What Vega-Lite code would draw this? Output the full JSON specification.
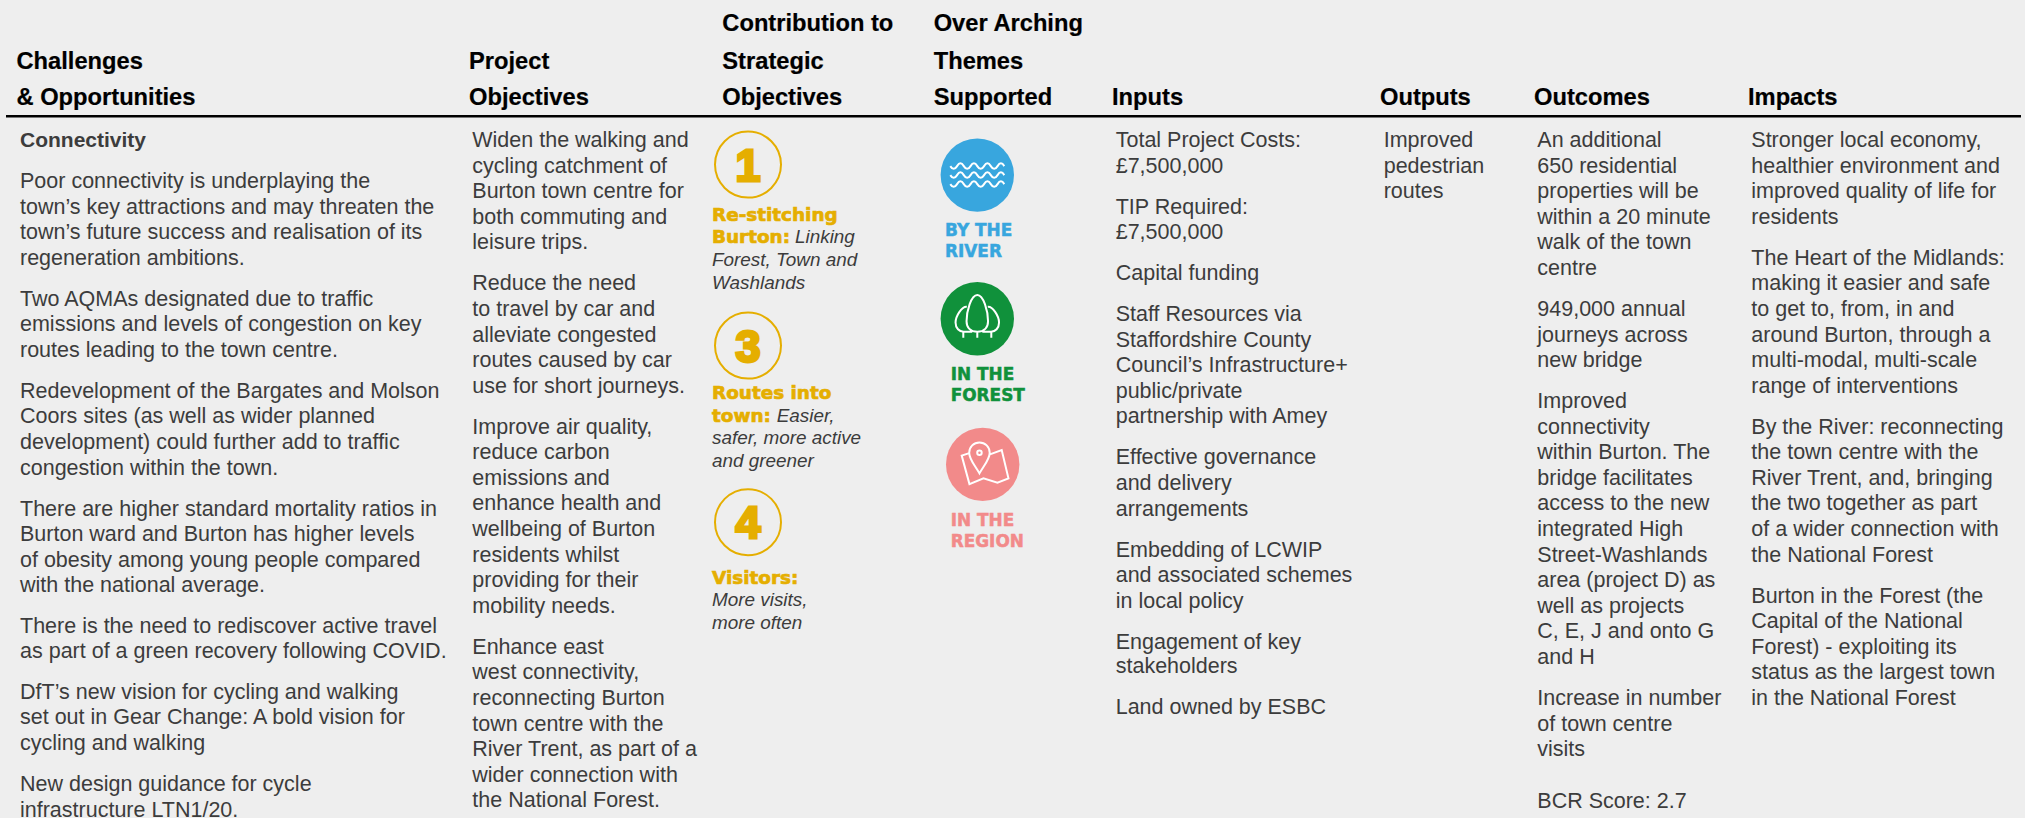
{
"$schema":"https://vega.github.io/schema/vega-lite/v6.json",
"width":2025,"height":818,"padding":0,
"autosize":{"type":"fit","contains":"padding"},
"background":"#eeeeee",
"view":{"stroke":null},
"datasets":{
"rule":[{"col":0,"to":23,"line":4.54}],
"header":[
{"col":6,"line":1.21,"text":"Contribution to"},{"col":10,"line":1.21,"text":"Over Arching"},
{"col":1,"line":2.68,"text":"Challenges"},{"col":3,"line":2.68,"text":"Project"},{"col":6,"line":2.68,"text":"Strategic"},{"col":10,"line":2.68,"text":"Themes"},
{"col":1,"line":4.12,"text":"& Opportunities"},{"col":3,"line":4.12,"text":"Objectives"},{"col":6,"line":4.12,"text":"Objectives"},{"col":10,"line":4.12,"text":"Supported"},{"col":15,"line":4.12,"text":"Inputs"},{"col":17,"line":4.12,"text":"Outputs"},{"col":19,"line":4.12,"text":"Outcomes"},{"col":21,"line":4.12,"text":"Impacts"}],
"lead":[{"col":2,"line":5.74,"text":"Connectivity"}],
"body":[
{"col":2,"line":7.34,"text":"Poor connectivity is underplaying the"},
{"col":2,"line":8.34,"text":"town’s key attractions and may threaten the"},
{"col":2,"line":9.34,"text":"town’s future success and realisation of its"},
{"col":2,"line":10.34,"text":"regeneration ambitions."},
{"col":2,"line":11.94,"text":"Two AQMAs designated due to traffic"},
{"col":2,"line":12.94,"text":"emissions and levels of congestion on key"},
{"col":2,"line":13.94,"text":"routes leading to the town centre."},
{"col":2,"line":15.54,"text":"Redevelopment of the Bargates and Molson"},
{"col":2,"line":16.54,"text":"Coors sites (as well as wider planned"},
{"col":2,"line":17.54,"text":"development) could further add to traffic"},
{"col":2,"line":18.54,"text":"congestion within the town."},
{"col":2,"line":20.14,"text":"There are higher standard mortality ratios in"},
{"col":2,"line":21.14,"text":"Burton ward and Burton has higher levels"},
{"col":2,"line":22.14,"text":"of obesity among young people compared"},
{"col":2,"line":23.12,"text":"with the national average."},
{"col":2,"line":24.72,"text":"There is the need to rediscover active travel"},
{"col":2,"line":25.72,"text":"as part of a green recovery following COVID."},
{"col":2,"line":27.3,"text":"DfT’s new vision for cycling and walking"},
{"col":2,"line":28.3,"text":"set out in Gear Change: A bold vision for"},
{"col":2,"line":29.3,"text":"cycling and walking"},
{"col":2,"line":30.9,"text":"New design guidance for cycle"},
{"col":2,"line":31.9,"text":"infrastructure LTN1/20."},
{"col":4,"line":5.74,"text":"Widen the walking and"},
{"col":4,"line":6.74,"text":"cycling catchment of"},
{"col":4,"line":7.74,"text":"Burton town centre for"},
{"col":4,"line":8.74,"text":"both commuting and"},
{"col":4,"line":9.74,"text":"leisure trips."},
{"col":4,"line":11.34,"text":"Reduce the need"},
{"col":4,"line":12.34,"text":"to travel by car and"},
{"col":4,"line":13.34,"text":"alleviate congested"},
{"col":4,"line":14.34,"text":"routes caused by car"},
{"col":4,"line":15.34,"text":"use for short journeys."},
{"col":4,"line":16.94,"text":"Improve air quality,"},
{"col":4,"line":17.94,"text":"reduce carbon"},
{"col":4,"line":18.94,"text":"emissions and"},
{"col":4,"line":19.94,"text":"enhance health and"},
{"col":4,"line":20.94,"text":"wellbeing of Burton"},
{"col":4,"line":21.94,"text":"residents whilst"},
{"col":4,"line":22.94,"text":"providing for their"},
{"col":4,"line":23.94,"text":"mobility needs."},
{"col":4,"line":25.54,"text":"Enhance east"},
{"col":4,"line":26.54,"text":"west connectivity,"},
{"col":4,"line":27.54,"text":"reconnecting Burton"},
{"col":4,"line":28.54,"text":"town centre with the"},
{"col":4,"line":29.54,"text":"River Trent, as part of a"},
{"col":4,"line":30.54,"text":"wider connection with"},
{"col":4,"line":31.54,"text":"the National Forest."},
{"col":16,"line":5.74,"text":"Total Project Costs:"},
{"col":16,"line":6.74,"text":"£7,500,000"},
{"col":16,"line":8.34,"text":"TIP Required:"},
{"col":16,"line":9.34,"text":"£7,500,000"},
{"col":16,"line":10.94,"text":"Capital funding"},
{"col":16,"line":12.54,"text":"Staff Resources via"},
{"col":16,"line":13.54,"text":"Staffordshire County"},
{"col":16,"line":14.54,"text":"Council’s Infrastructure+"},
{"col":16,"line":15.54,"text":"public/private"},
{"col":16,"line":16.54,"text":"partnership with Amey"},
{"col":16,"line":18.14,"text":"Effective governance"},
{"col":16,"line":19.14,"text":"and delivery"},
{"col":16,"line":20.14,"text":"arrangements"},
{"col":16,"line":21.74,"text":"Embedding of LCWIP"},
{"col":16,"line":22.74,"text":"and associated schemes"},
{"col":16,"line":23.74,"text":"in local policy"},
{"col":16,"line":25.34,"text":"Engagement of key"},
{"col":16,"line":26.3,"text":"stakeholders"},
{"col":16,"line":27.9,"text":"Land owned by ESBC"},
{"col":18,"line":5.74,"text":"Improved"},
{"col":18,"line":6.74,"text":"pedestrian"},
{"col":18,"line":7.74,"text":"routes"},
{"col":20,"line":5.74,"text":"An additional"},
{"col":20,"line":6.74,"text":"650 residential"},
{"col":20,"line":7.74,"text":"properties will be"},
{"col":20,"line":8.74,"text":"within a 20 minute"},
{"col":20,"line":9.74,"text":"walk of the town"},
{"col":20,"line":10.74,"text":"centre"},
{"col":20,"line":12.34,"text":"949,000 annual"},
{"col":20,"line":13.34,"text":"journeys across"},
{"col":20,"line":14.34,"text":"new bridge"},
{"col":20,"line":15.94,"text":"Improved"},
{"col":20,"line":16.94,"text":"connectivity"},
{"col":20,"line":17.94,"text":"within Burton. The"},
{"col":20,"line":18.94,"text":"bridge facilitates"},
{"col":20,"line":19.94,"text":"access to the new"},
{"col":20,"line":20.94,"text":"integrated High"},
{"col":20,"line":21.94,"text":"Street-Washlands"},
{"col":20,"line":22.94,"text":"area (project D) as"},
{"col":20,"line":23.94,"text":"well as  projects"},
{"col":20,"line":24.94,"text":"C, E, J and onto G"},
{"col":20,"line":25.94,"text":"and H"},
{"col":20,"line":27.54,"text":"Increase in number"},
{"col":20,"line":28.54,"text":"of town centre"},
{"col":20,"line":29.54,"text":"visits"},
{"col":20,"line":31.57,"text":"BCR Score: 2.7"},
{"col":22,"line":5.74,"text":"Stronger local economy,"},
{"col":22,"line":6.74,"text":"healthier environment and"},
{"col":22,"line":7.74,"text":"improved quality of life for"},
{"col":22,"line":8.74,"text":"residents"},
{"col":22,"line":10.34,"text":"The Heart of the Midlands:"},
{"col":22,"line":11.34,"text":"making it easier and safe"},
{"col":22,"line":12.34,"text":"to get to, from, in and"},
{"col":22,"line":13.34,"text":"around Burton, through a"},
{"col":22,"line":14.34,"text":"multi-modal, multi-scale"},
{"col":22,"line":15.34,"text":"range of interventions"},
{"col":22,"line":16.94,"text":"By the River: reconnecting"},
{"col":22,"line":17.94,"text":"the town centre with the"},
{"col":22,"line":18.94,"text":"River Trent, and, bringing"},
{"col":22,"line":19.94,"text":"the two together as part"},
{"col":22,"line":20.94,"text":"of a wider connection with"},
{"col":22,"line":21.94,"text":"the National Forest"},
{"col":22,"line":23.54,"text":"Burton in the Forest (the"},
{"col":22,"line":24.54,"text":"Capital of the National"},
{"col":22,"line":25.54,"text":"Forest) - exploiting its"},
{"col":22,"line":26.54,"text":"status as the largest town"},
{"col":22,"line":27.54,"text":"in the National Forest"}],
"note":[
{"col":9,"line":9.5,"text":"Linking"},
{"col":5,"line":10.39,"text":"Forest, Town and"},
{"col":5,"line":11.28,"text":"Washlands"},
{"col":8,"line":16.47,"text":"Easier,"},
{"col":5,"line":17.34,"text":"safer, more active"},
{"col":5,"line":18.23,"text":"and greener"},
{"col":5,"line":23.67,"text":"More visits,"},
{"col":5,"line":24.57,"text":"more often"}],
"objective":[
{"col":5,"line":8.62,"text":"Re-stitching"},
{"col":5,"line":9.5,"text":"Burton:"},
{"col":5,"line":15.59,"text":"Routes into"},
{"col":5,"line":16.47,"text":"town:"},
{"col":5,"line":22.81,"text":"Visitors:"}],
"digits":[
{"col":7,"circle":6.43,"line":7.07,"text":"1"},
{"col":7,"circle":13.5,"line":14.13,"text":"3"},
{"col":7,"circle":20.4,"line":21.03,"text":"4"}],
"themeLabels":[
{"col":11,"line":9.22,"text":"BY THE","theme":"River"},
{"col":11,"line":10.03,"text":"RIVER","theme":"River"},
{"col":12,"line":14.84,"text":"IN THE","theme":"Forest"},
{"col":12,"line":15.65,"text":"FOREST","theme":"Forest"},
{"col":12,"line":20.55,"text":"IN THE","theme":"Region"},
{"col":12,"line":21.36,"text":"REGION","theme":"Region"}],
"themes":[
{"col":13,"line":6.84,"theme":"River"},
{"col":13,"line":12.45,"theme":"Forest"},
{"col":14,"line":18.14,"theme":"Region"}]
},
"encoding":{
"x":{"field":"col","type":"quantitative","axis":null,"scale":{"type":"linear","nice":false,"zero":false,"clamp":false,
"domain":[0,1,2,3,4,5,6,7,8,9,10,11,12,13,14,15,16,17,18,19,20,21,22,23],
"range":[6,16.5,20,469,472.3,712,722.3,748,776.7,795,933.7,945,950.7,977.3,982.7,1112,1115.7,1380,1383.7,1534,1537.3,1748,1751.3,2021]}},
"y":{"field":"line","type":"quantitative","axis":null,"scale":{"type":"linear","nice":false,"zero":false,"domain":[0,31.953],"range":[0,818]}}
},
"layer":[
{"data":{"name":"rule"},"mark":{"type":"rule","color":"#000000","strokeWidth":2.4},"encoding":{"x2":{"field":"to"}}},
{"data":{"name":"header"},"mark":{"type":"text","align":"left","baseline":"alphabetic","font":"Liberation Sans","fontWeight":"bold","fontSize":23.7,"color":"#000000","stroke":"#000000","strokeWidth":0.2},"encoding":{"text":{"field":"text"}}},
{"data":{"name":"lead"},"mark":{"type":"text","align":"left","baseline":"alphabetic","font":"Liberation Sans","fontWeight":"bold","fontSize":21,"color":"#3c3c3c"},"encoding":{"text":{"field":"text"}}},
{"data":{"name":"body"},"mark":{"type":"text","align":"left","baseline":"alphabetic","font":"Liberation Sans","fontSize":21.5,"color":"#3c3c3c"},"encoding":{"text":{"field":"text"}}},
{"data":{"name":"note"},"mark":{"type":"text","align":"left","baseline":"alphabetic","font":"Liberation Sans","fontStyle":"italic","fontSize":18.9,"color":"#3c3c3c"},"encoding":{"text":{"field":"text"}}},
{"data":{"name":"objective"},"mark":{"type":"text","align":"left","baseline":"alphabetic","font":"DejaVu Sans","fontWeight":"bold","fontSize":18.4,"color":"#e5ae00","stroke":"#e5ae00","strokeWidth":0.7},"encoding":{"text":{"field":"text"}}},
{"data":{"name":"digits"},"mark":{"type":"point","shape":"circle","filled":false,"size":4356,"stroke":"#e5ae00","strokeWidth":2,"opacity":1},"encoding":{"y":{"field":"circle","type":"quantitative"}}},
{"data":{"name":"digits"},"mark":{"type":"text","align":"center","baseline":"alphabetic","font":"Liberation Sans","fontWeight":"bold","fontSize":45,"color":"#e5ae00","stroke":"#e5ae00","strokeWidth":3},"encoding":{"text":{"field":"text"}}},
{"data":{"name":"themes"},"mark":{"type":"point","shape":"circle","filled":true,"size":5388,"opacity":1,"strokeWidth":0},"encoding":{"color":{"field":"theme","type":"nominal","legend":null,"scale":{"domain":["River","Forest","Region"],"range":["#38a6de","#10913b","#f28a8a"]}}}},
{"data":{"name":"themes"},"mark":{"type":"point","filled":false,"size":2500,"stroke":"#ffffff","strokeWidth":2,"opacity":1},"encoding":{"shape":{"field":"theme","type":"nominal","legend":null,"scale":{"domain":["River","Forest","Region"],"range":[
"M-1.08,-.36 q.135,.22 .27,0 q.135,-.22 .27,0 q.135,.22 .27,0 q.135,-.22 .27,0 q.135,.22 .27,0 q.135,-.22 .27,0 q.135,.22 .27,0 q.135,-.22 .27,0 M-1.08,0 q.135,.22 .27,0 q.135,-.22 .27,0 q.135,.22 .27,0 q.135,-.22 .27,0 q.135,.22 .27,0 q.135,-.22 .27,0 q.135,.22 .27,0 q.135,-.22 .27,0 M-1.08,.36 q.135,.22 .27,0 q.135,-.22 .27,0 q.135,.22 .27,0 q.135,-.22 .27,0 q.135,.22 .27,0 q.135,-.22 .27,0 q.135,.22 .27,0 q.135,-.22 .27,0",
"M0,-.95C.25,-.95 .43,-.3 .43,.1C.43,.38 .25,.52 0,.52C-.25,.52 -.43,.38 -.43,.1C-.43,-.3 -.25,-.95 0,-.95ZM0,.52L0,.76M-.42,-.48C-.62,-.5 -.87,-.1 -.87,.15C-.87,.38 -.72,.52 -.55,.52L-.2,.52M-.56,.52L-.56,.76M.42,-.48C.62,-.5 .87,-.1 .87,.15C.87,.38 .72,.52 .55,.52L.2,.52M.56,.52L.56,.76",
"M-.13,.36C-.3,.05 -.54,-.2 -.54,-.47A.41,.41 0 0 1 .28,-.47C.28,-.2 .04,.05 -.13,.36ZM-.22,-.47A.09,.09 0 1 1 -.04,-.47A.09,.09 0 1 1 -.22,-.47ZM-.51,-.46L-.84,-.35L-.53,.79L.03,.56L.59,.73L1.03,.56L.76,-.57L.29,-.4"
]}}}},
{"data":{"name":"themeLabels"},"mark":{"type":"text","align":"left","baseline":"alphabetic","font":"DejaVu Sans","fontWeight":"bold","fontSize":16.9,"strokeWidth":0.5},"encoding":{"text":{"field":"text"},"color":{"field":"theme","type":"nominal","legend":null,"scale":{"domain":["River","Forest","Region"],"range":["#38a6de","#10913b","#f28a8a"]}},"stroke":{"field":"theme","type":"nominal","legend":null,"scale":{"domain":["River","Forest","Region"],"range":["#38a6de","#10913b","#f28a8a"]}}}}
]
}
